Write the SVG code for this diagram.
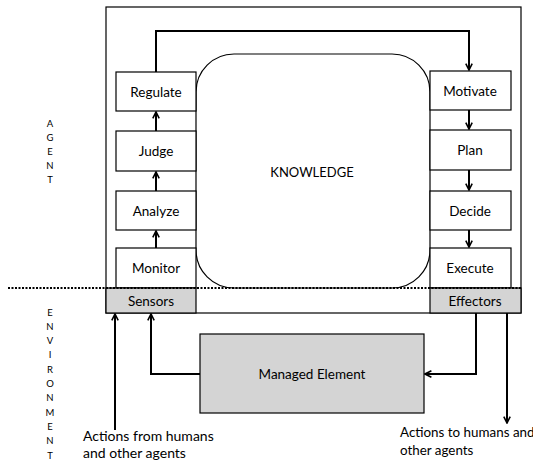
<svg xmlns="http://www.w3.org/2000/svg" width="533" height="462" viewBox="0 0 533 462">
<style>
.box{fill:#fff;stroke:#000;stroke-width:1.2}
.gray{fill:#d4d4d4;stroke:#000;stroke-width:1.2}
.lbl{font-family:Lato,"Open Sans","Liberation Sans",sans-serif;font-size:13.5px;fill:#000;text-anchor:middle;dominant-baseline:central}
.side{font-family:Lato,"Open Sans","Liberation Sans",sans-serif;font-size:9.5px;fill:#000;text-anchor:middle;dominant-baseline:central}
.note{font-family:Lato,"Open Sans","Liberation Sans",sans-serif;font-size:14px;fill:#000}
.conn{fill:none;stroke:#000;stroke-width:2;marker-end:url(#ah)}
</style>
<defs>
<marker id="ah" viewBox="0 0 10 10" refX="9" refY="5" markerWidth="4" markerHeight="4" orient="auto" markerUnits="strokeWidth">
<path d="M1,1 L9,5 L1,9" fill="none" stroke="#000" stroke-width="2"/>
</marker>
</defs>
<g id="agent">
<rect x="106" y="7" width="415" height="306" fill="#fff" stroke="#000" stroke-width="1.2"/>
</g>
<g id="knowledge">
<rect x="196" y="54" width="234" height="234" rx="38" ry="38" class="box"/>
<text x="312" y="172" class="lbl" style="font-size:13px">KNOWLEDGE</text>
</g>
<g id="regulate"><rect x="116" y="72" width="80" height="39" class="box"/><text x="156" y="92" class="lbl">Regulate</text></g>
<g id="judge"><rect x="116" y="131" width="80" height="40" class="box"/><text x="156" y="151" class="lbl">Judge</text></g>
<g id="analyze"><rect x="116" y="191" width="80" height="39" class="box"/><text x="156" y="211" class="lbl">Analyze</text></g>
<g id="monitor"><rect x="116" y="248" width="80" height="40" class="box"/><text x="156" y="268" class="lbl">Monitor</text></g>
<g id="motivate"><rect x="430" y="71" width="81" height="39" class="box"/><text x="470" y="91" class="lbl">Motivate</text></g>
<g id="plan"><rect x="430" y="130" width="81" height="40" class="box"/><text x="470" y="150" class="lbl">Plan</text></g>
<g id="decide"><rect x="430" y="191" width="81" height="39" class="box"/><text x="470" y="211" class="lbl">Decide</text></g>
<g id="execute"><rect x="430" y="248" width="81" height="40" class="box"/><text x="470" y="268" class="lbl">Execute</text></g>
<g id="sensors"><rect x="106" y="288" width="90" height="25" class="gray"/><text x="151" y="300.5" class="lbl">Sensors</text></g>
<g id="effectors"><rect x="430" y="288" width="91" height="25" class="gray"/><text x="475" y="300.5" class="lbl">Effectors</text></g>
<g id="managed"><rect x="200" y="334" width="224" height="79" class="gray"/><text x="312" y="374" class="lbl">Managed Element</text></g>
<line x1="8" y1="288" x2="521" y2="288" stroke="#000" stroke-width="2" stroke-dasharray="2 1.5"/>
<g id="connectors">
<path class="conn" d="M156,72 V31 H469 V70"/>
<path class="conn" d="M156,131 V112"/>
<path class="conn" d="M156,191 V172"/>
<path class="conn" d="M156,248 V231"/>
<path class="conn" d="M469,110 V129"/>
<path class="conn" d="M469,170 V190"/>
<path class="conn" d="M469,230 V247"/>
<path class="conn" d="M115,430 V314"/>
<path class="conn" d="M200,374 H151 V314"/>
<path class="conn" d="M476,313 V374 H425"/>
<path class="conn" d="M507,313 V423"/>
</g>
<g id="labels">
<text x="50" y="123" class="side">A</text>
<text x="50" y="137" class="side">G</text>
<text x="50" y="151" class="side">E</text>
<text x="50" y="165" class="side">N</text>
<text x="50" y="179" class="side">T</text>
<text x="50" y="312" class="side">E</text>
<text x="50" y="326" class="side">N</text>
<text x="50" y="340.6" class="side">V</text>
<text x="50" y="354.9" class="side">I</text>
<text x="50" y="369.2" class="side">R</text>
<text x="50" y="383.5" class="side">O</text>
<text x="50" y="397.8" class="side">N</text>
<text x="50" y="412.1" class="side">M</text>
<text x="50" y="426.4" class="side">E</text>
<text x="50" y="440.7" class="side">N</text>
<text x="50" y="455" class="side">T</text>
<text x="83" y="441" class="note">Actions from humans</text>
<text x="83" y="458" class="note">and other agents</text>
<text x="400" y="437" class="note" style="font-size:13.4px">Actions to humans and</text>
<text x="400" y="455" class="note" style="font-size:13.4px">other agents</text>
</g>
</svg>
